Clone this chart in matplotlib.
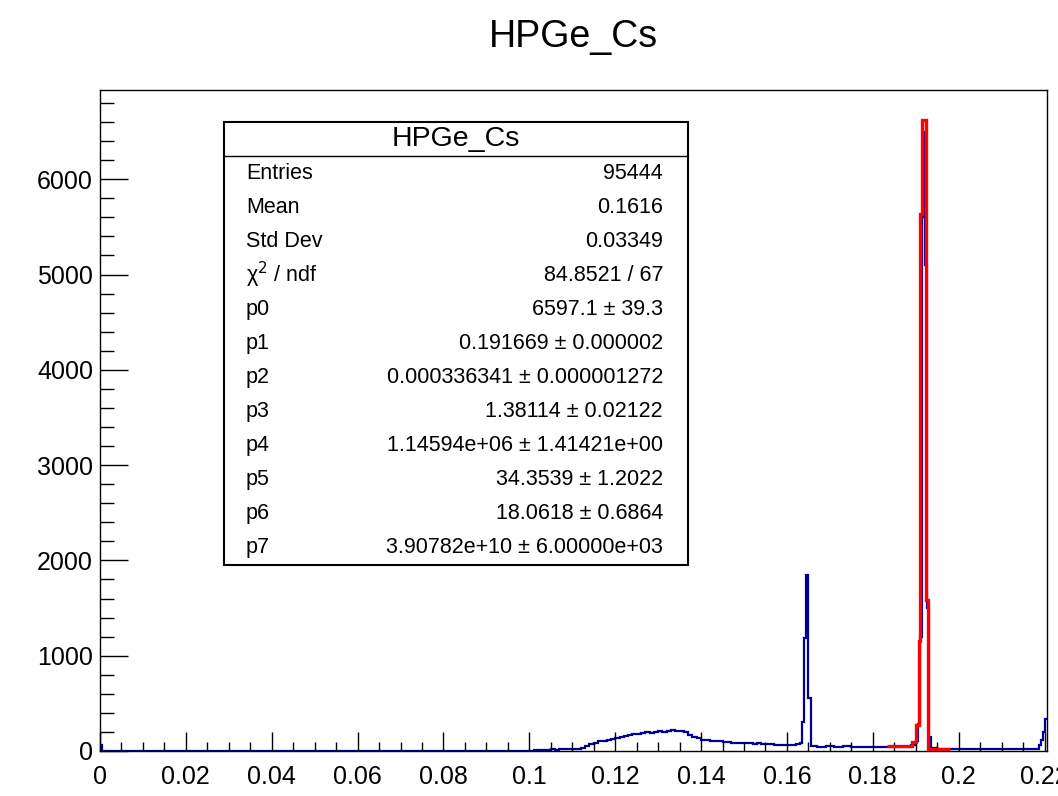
import numpy as np
import matplotlib
matplotlib.use("Agg")
import matplotlib.pyplot as plt
from matplotlib.patches import Rectangle
from matplotlib.lines import Line2D
from matplotlib.ticker import MultipleLocator

plt.rcParams['font.family'] = ['Liberation Sans', 'DejaVu Sans']

# --- blue histogram (HPGe_Cs), piecewise bins ---
start_edges = [0.0, 0.0005, 0.101]
start_counts = [60, 0]

hump_lo, hump_hi = 0.101, 0.163
hump_counts = [8, 12, 10, 15, 18, 15, 20, 18, 22, 20,
               25, 35, 50, 70, 85, 100, 110, 115, 125, 140,
               150, 160, 172, 178, 180, 188, 200, 192, 198, 205,
               200, 212, 218, 208, 210, 195, 170, 150, 135, 120,
               112, 110, 105, 100, 95, 90, 88, 85, 86, 82,
               80, 78, 80, 76, 72, 70, 68, 65, 62, 60,
               65, 70]

peak1_edges = [0.163, 0.1635, 0.164, 0.1645, 0.165, 0.1655]
peak1_counts = [80, 305, 1186, 1847, 556]

flat_edges = [0.1655, 0.167, 0.169, 0.171, 0.173, 0.175, 0.177, 0.179,
              0.181, 0.183, 0.185, 0.187, 0.189, 0.190, 0.1905]
flat_counts = [50, 45, 50, 42, 48, 40, 45, 42, 45, 40, 40, 45, 60, 100]

peak2_edges = [0.1905, 0.1910, 0.1914, 0.1918, 0.1922, 0.1927, 0.1931, 0.1935]
peak2_counts = [280, 1200, 5600, 6500, 5100, 1500, 150]

tail_edges = [0.1935, 0.195, 0.197, 0.199, 0.201, 0.203, 0.205, 0.207,
              0.209, 0.211, 0.213, 0.215, 0.217, 0.2188]
tail_counts = [30, 25, 20, 22, 18, 20, 22, 18, 20, 19, 22, 20, 25]

edge_edges = [0.2188, 0.2192, 0.2196, 0.2200, 0.2205]
edge_counts = [60, 120, 200, 340]

# --- red fit curve over the photopeak ---
fit_edges = [0.1833, 0.1892, 0.1901, 0.1907, 0.1911, 0.1915, 0.1923, 0.1928, 0.1980]
fit_values = [50, 90, 270, 1150, 5640, 6620, 1580, 25]

# --- stats box ---
stat_title = "HPGe_Cs"
stat_names = ["Entries", "Mean", "Std Dev", "χ$^{2}$ / ndf", "p0", "p1", "p2",
              "p3", "p4", "p5", "p6", "p7"]
stat_values = ["95444", "0.1616", "0.03349", "84.8521 / 67",
               "6597.1 ± 39.3", "0.191669 ± 0.000002",
               "0.000336341 ± 0.000001272", "1.38114 ± 0.02122",
               "1.14594e+06 ± 1.41421e+00", "34.3539 ± 1.2022",
               "18.0618 ± 0.6864", "3.90782e+10 ± 6.00000e+03"]

hump_edges = list(np.linspace(hump_lo, hump_hi, len(hump_counts) + 1))
blue_edges = (start_edges + hump_edges[1:] + peak1_edges[1:] + flat_edges[1:]
              + peak2_edges[1:] + tail_edges[1:] + edge_edges[1:])
blue_counts = (start_counts + hump_counts + peak1_counts + flat_counts
               + peak2_counts + tail_counts + edge_counts)

W, H = 1058, 796
fig = plt.figure(figsize=(W / 100, H / 100), dpi=100)
ax = fig.add_axes([100 / W, 1 - 751 / H, 946.7 / W, 661 / H])

ax.stairs(blue_counts, blue_edges, color='#000099', lw=1.6, baseline=None)
ax.stairs(fit_values, fit_edges, color='#ff0000', lw=2.4, baseline=None, zorder=3)

ax.set_xlim(0, 0.2205)
ax.set_ylim(0, 6936)

ax.xaxis.set_major_locator(MultipleLocator(0.02))
ax.xaxis.set_minor_locator(MultipleLocator(0.005))
ax.yaxis.set_major_locator(MultipleLocator(1000))
ax.yaxis.set_minor_locator(MultipleLocator(200))
ax.xaxis.set_major_formatter(plt.FuncFormatter(lambda v, p: ('%g' % round(v, 4))))
ax.yaxis.set_major_formatter(plt.FuncFormatter(lambda v, p: '%d' % v))

ax.tick_params(axis='x', which='major', direction='in', length=13.7, width=1.0,
               labelsize=18, pad=10)
ax.tick_params(axis='x', which='minor', direction='in', length=6.8, width=1.0)
ax.tick_params(axis='y', which='major', direction='in', length=20, width=1.0,
               labelsize=18, pad=5)
ax.tick_params(axis='y', which='minor', direction='in', length=10, width=1.0)
for s in ax.spines.values():
    s.set_linewidth(1.0)

# title
fig.text(573 / W, 1 - 37 / H, "HPGe_Cs", ha='center', va='center', fontsize=27)

# stats box
bx0, bx1, by0, by1, bsep = 224, 688, 122, 565, 156
fig.add_artist(Rectangle((bx0 / W, 1 - by1 / H), (bx1 - bx0) / W, (by1 - by0) / H,
                         transform=fig.transFigure, facecolor='white',
                         edgecolor='black', lw=1.5, zorder=5))
fig.add_artist(Line2D([bx0 / W, bx1 / W], [1 - bsep / H, 1 - bsep / H],
                      transform=fig.transFigure, color='black', lw=1.0, zorder=6))
fig.text((bx0 + bx1) / 2 / W, 1 - (by0 + bsep) / 2 / H, stat_title,
         ha='center', va='center', fontsize=20.5, zorder=7)
row_h = (by1 - bsep) / len(stat_names)
for i, (name, val) in enumerate(zip(stat_names, stat_values)):
    yc = 1 - (bsep + row_h * (i + 0.5)) / H
    fig.text(246 / W, yc, name, ha='left', va='center', fontsize=15.5, zorder=7)
    fig.text(663 / W, yc, val, ha='right', va='center', fontsize=15.5, zorder=7)

fig.savefig("out.png", dpi=100)
